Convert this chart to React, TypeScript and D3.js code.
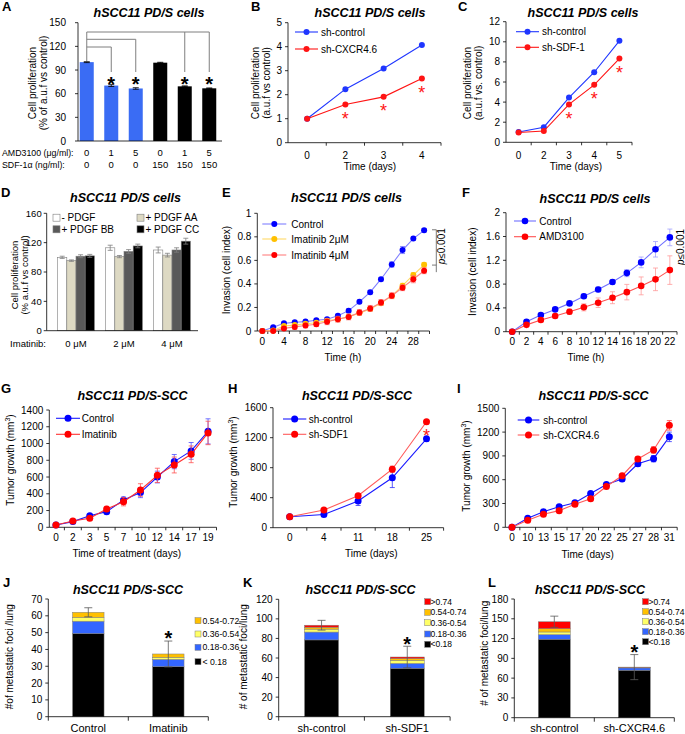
import React from "react";
import * as d3 from "d3";

const FONT = "'Liberation Sans', Arial, Helvetica, sans-serif";

// ---------------- DATA ----------------
// Panel A
const aAmd = ["0", "1", "5", "0", "1", "5"];
const aSdf = ["0", "0", "0", "150", "150", "150"];
const aValues = [100, 70.3, 66.6, 99.3, 69.3, 66.8];
const aErrors = [0.6, 1.2, 1.0, 0.5, 0.6, 0.5];
const aStars = [false, true, true, false, true, true];
const aTicks = [0, 30, 60, 90, 120, 150];

// Panel B
const bDays = ["0", "2", "3", "4"];
const bControl = [1.0, 2.23, 3.09, 4.07];
const bCxcr = [1.0, 1.59, 1.91, 2.68];
const bStars = [1, 2, 3];
const bTicks = [0, 1, 2, 3, 4, 5];

// Panel C
const cDays = ["0", "2", "3", "4", "5"];
const cControl = [1.03, 1.5, 4.45, 6.97, 10.1];
const cSdf = [0.98, 1.12, 3.77, 5.72, 8.33];
const cStars = [2, 3, 4];
const cTicks = [0, 2, 4, 6, 8, 10, 12];

// Panel D
const dGroups = ["0 \u03bcM", "2 \u03bcM", "4 \u03bcM"];
const dSeriesNames = ["- PDGF", "+ PDGF AA", "+ PDGF BB", "+ PDGF CC"];
const dNone = [100, 113, 110];
const dNoneErr = [1.5, 3.5, 4];
const dAA = [95.5, 101, 103];
const dAAErr = [1, 1.5, 2.5];
const dBB = [101.5, 108, 110];
const dBBErr = [2, 2.5, 3];
const dCC = [102, 115.5, 122];
const dCCErr = [2, 2.5, 4];
const dTicks = [0, 40, 80, 120, 160];

// Panel E
const eHours = ["0", "2", "4", "6", "8", "10", "12", "14", "16", "18", "20", "22", "24", "26", "28", "30"];
const eControl = [0, 0.031, 0.065, 0.074, 0.08, 0.092, 0.1, 0.13, 0.173, 0.248, 0.33, 0.44, 0.565, 0.688, 0.785, 0.855];
const eControlErr = [0.004, 0.008, 0.01, 0.01, 0.01, 0.01, 0.01, 0.012, 0.015, 0.015, 0.015, 0.015, 0.022, 0.03, 0.015, 0.015];
const eIma2 = [0, 0.005, 0.042, 0.05, 0.062, 0.07, 0.088, 0.1, 0.122, 0.152, 0.187, 0.235, 0.298, 0.385, 0.476, 0.562];
const eIma2Err = [0.004, 0.006, 0.01, 0.012, 0.012, 0.012, 0.015, 0.015, 0.015, 0.015, 0.015, 0.015, 0.02, 0.02, 0.02, 0.02];
const eIma4 = [0, 0, 0.022, 0.035, 0.047, 0.058, 0.079, 0.1, 0.12, 0.157, 0.192, 0.242, 0.3, 0.368, 0.44, 0.512];
const eIma4Err = [0.004, 0.006, 0.015, 0.02, 0.02, 0.02, 0.025, 0.025, 0.025, 0.025, 0.025, 0.025, 0.025, 0.025, 0.03, 0.025];
const eTicks = [0, 0.2, 0.4, 0.6, 0.8, 1];

// Panel F
const fHours = ["0", "2", "4", "6", "8", "10", "12", "14", "16", "18", "20", "22"];
const fControl = [0, 0.168, 0.28, 0.375, 0.476, 0.595, 0.71, 0.835, 0.985, 1.165, 1.385, 1.585];
const fControlErr = [0.01, 0.03, 0.03, 0.03, 0.03, 0.035, 0.04, 0.04, 0.06, 0.09, 0.13, 0.14];
const fAmd = [0, 0.115, 0.196, 0.263, 0.336, 0.41, 0.487, 0.571, 0.665, 0.77, 0.88, 1.035];
const fAmdErr = [0.01, 0.03, 0.035, 0.04, 0.045, 0.06, 0.08, 0.1, 0.13, 0.15, 0.19, 0.24];
const fTicks = [0, 0.4, 0.8, 1.2, 1.6, 2];

// Panel G
const gDays = ["0", "2", "3", "5", "7", "10", "12", "14", "17", "19"];
const gControl = [28, 68, 139, 187, 326, 414, 600, 784, 912, 1145];
const gControlErr = [8, 15, 20, 25, 35, 60, 70, 85, 100, 150];
const gImatinib = [28, 76, 107, 219, 306, 445, 620, 744, 871, 1126];
const gImatinibErr = [8, 15, 20, 30, 50, 75, 85, 95, 100, 140];
const gTicks = [0, 200, 400, 600, 800, 1000, 1200, 1400];

// Panel H
const hDays = ["0", "4", "11", "18", "25"];
const hControl = [147, 175, 356, 665, 1185];
const hControlErr = [15, 25, 60, 130, 30];
const hSdf = [147, 236, 427, 780, 1412];
const hSdfErr = [15, 20, 25, 40, 25];
const hStars = [4];
const hTicks = [0, 400, 800, 1200, 1600];

// Panel I
const iDays = ["0", "10", "13", "15", "17", "20", "22", "25", "27", "28", "31"];
const iControl = [0, 113, 197, 260, 310, 425, 540, 609, 800, 865, 1140];
const iControlErr = [5, 15, 20, 20, 20, 20, 25, 25, 30, 40, 60];
const iCxcr = [0, 90, 165, 210, 290, 360, 515, 650, 862, 975, 1285];
const iCxcrErr = [5, 15, 20, 20, 20, 20, 25, 25, 30, 40, 60];
const iTicks = [0, 300, 600, 900, 1200, 1500];

// Panel J
const jCats = ["Control", "Imatinib"];
const jLt018 = [49.5, 29.8];
const j018 = [7.3, 4.3];
const j036 = [2.3, 1.2];
const j054 = [3.0, 2.0];
const jErr = [2.7, 7.7];
const jStars = [false, true];
const jTicks = [0, 10, 20, 30, 40, 50, 60, 70];

// Panel K
const kCats = ["sh-control", "sh-SDF1"];
const kLt018 = [78.5, 49.5];
const k018 = [8, 5];
const k036 = [3, 3.2];
const k054 = [2, 1.8];
const k074 = [2, 1.5];
const kErr = [5, 11];
const kStars = [false, true];
const kTicks = [0, 20, 40, 60, 80, 100, 120];

// Panel L
const lCats = ["sh-control", "sh-CXCR4.6"];
const lLt018 = [119, 72];
const l018 = [7, 3.5];
const l036 = [4, 0.5];
const l054 = [5, 0.4];
const l074 = [10.5, 0.3];
const lErr = [8.5, 19];
const lStars = [false, true];
const lTicks = [0, 30, 60, 90, 120, 150, 180];

// ---------------- COLORS ----------------
const BLUE = "#1f36ff";
const RED = "#ff1414";
const ORANGE = "#ffc000";
const STK_BLACK = "#000000";
const STK_BLUE = "#3366ff";
const STK_YEL = "#ffff66";
const STK_ORA = "#ffc000";
const STK_RED = "#ff0000";

// ---------------- HELPERS ----------------
function Letter({ x, y, children }: any) {
  return (
    <text x={x} y={y} fontSize={13} fontWeight="bold">
      {children}
    </text>
  );
}
function Title({ x, y, children }: any) {
  return (
    <text x={x} y={y} fontSize={12.5} fontWeight="bold" fontStyle="italic" textAnchor="middle">
      {children}
    </text>
  );
}
function VText({ x, y, children, size = 10 }: any) {
  return (
    <text transform={`translate(${x},${y}) rotate(-90)`} textAnchor="middle" dy="0.35em" fontSize={size}>
      {children}
    </text>
  );
}
function TumorLabel({ x, y }: any) {
  return (
    <text transform={`translate(${x},${y}) rotate(-90)`} textAnchor="middle" dy="0.35em" fontSize={10}>
      Tumor growth (mm
      <tspan dy={-3.5} fontSize={7}>
        3
      </tspan>
      <tspan dy={3.5}>)</tspan>
    </text>
  );
}
function YAxis({ scale, x, ticks, fmt, gap = 6, size = 10 }: any) {
  const [b, t] = scale.range();
  const f = fmt || ((v: number) => String(v));
  return (
    <g>
      <line x1={x} x2={x} y1={b} y2={t} stroke="#000" strokeWidth={0.8} />
      {ticks.map((v: number) => (
        <g key={v}>
          <line x1={x - 3} x2={x} y1={scale(v)} y2={scale(v)} stroke="#000" strokeWidth={0.8} />
          <text x={x - gap} y={scale(v)} dy="0.35em" textAnchor="end" fontSize={size}>
            {f(v)}
          </text>
        </g>
      ))}
    </g>
  );
}
function Star({ x, cy, size = 18, color = "#000", bold = false }: any) {
  return (
    <text x={x} y={cy + size * 0.57} fontSize={size} textAnchor="middle" fill={color} fontWeight={bold ? "bold" : "normal"}>
      *
    </text>
  );
}
function ErrBar({ x, y0, y1, w = 2.5, color = "#000", sw = 0.8 }: any) {
  return (
    <path
      d={`M${x},${y0}V${y1}M${x - w},${y0}H${x + w}M${x - w},${y1}H${x + w}`}
      stroke={color}
      strokeWidth={sw}
      fill="none"
    />
  );
}
const dec1 = (v: number) => (v === 0 ? "0" : Number.isInteger(v) ? String(v) : v.toFixed(1));

type Series = { name: string; values: number[]; errors?: number[]; color: string; line: string; err?: string };

function LineChart(p: any) {
  const cats: string[] = p.cats;
  const x = d3.scaleBand<string>().domain(cats).range(p.band).padding(0);
  const y = d3.scaleLinear().domain(p.yDomain).range(p.yRange);
  const bw = x.bandwidth();
  const cx = (i: number) => (x(cats[i]) as number) + bw / 2;
  const bottom = p.yRange[0];
  const line = d3
    .line<number>()
    .x((_, i) => cx(i))
    .y((v) => y(v));
  const r = p.r ?? 3;
  const every = p.labelEvery ?? 1;
  const series: Series[] = p.series;
  const lg = p.legend;
  return (
    <g>
      <YAxis scale={y} x={p.axisX} ticks={p.yTicks} fmt={p.yFmt} gap={p.gap ?? 6} />
      <line x1={p.axisX} x2={p.axisEnd} y1={bottom} y2={bottom} stroke="#000" strokeWidth={0.8} />
      {d3.range(1, cats.length + 1).map((i) => {
        const xx = p.band[0] + i * bw;
        return <line key={i} x1={xx} x2={xx} y1={bottom} y2={bottom + 3} stroke="#000" strokeWidth={0.8} />;
      })}
      {cats.map((c, i) =>
        i % every === 0 ? (
          <text key={c} x={cx(i)} y={p.labelY} textAnchor="middle" fontSize={10}>
            {c}
          </text>
        ) : null
      )}
      {series.map((s) => (
        <g key={s.name}>
          {s.errors &&
            s.values.map((v, i) => {
              const e = s.errors![i];
              if (!e) return null;
              return <ErrBar key={i} x={cx(i)} y0={y(v - e)} y1={y(v + e)} w={2.5} color={s.err ?? s.color} />;
            })}
          <path d={line(s.values) as string} fill="none" stroke={s.line} strokeWidth={p.lw ?? 1.1} />
          {s.values.map((v, i) => (
            <circle key={i} cx={cx(i)} cy={y(v)} r={r} fill={s.color} />
          ))}
        </g>
      ))}
      {p.stars &&
        p.stars.map((i: number) => (
          <Star key={i} x={cx(i)} cy={y(series[series.length - 1].values[i]) + 10} color={RED} size={18} />
        ))}
      {series.map((s, k) => (
        <g key={"lg" + k}>
          <line x1={lg.x0} x2={lg.x1} y1={lg.ys[k]} y2={lg.ys[k]} stroke={s.line} strokeWidth={p.lw ?? 1.1} />
          <circle cx={(lg.x0 + lg.x1) / 2} cy={lg.ys[k]} r={r} fill={s.color} />
          <text x={lg.tx} y={lg.ys[k]} dy="0.35em" fontSize={10}>
            {s.name}
          </text>
        </g>
      ))}
    </g>
  );
}

type Layer = { name: string; values: number[]; color: string };

function StackedChart(p: any) {
  const cats: string[] = p.cats;
  const layers: Layer[] = p.layers;
  const x = d3.scaleBand<string>().domain(cats).range(p.band).padding(0);
  const y = d3.scaleLinear().domain(p.yDomain).range(p.yRange);
  const bw = x.bandwidth();
  const cx = (i: number) => (x(cats[i]) as number) + bw / 2;
  const bottom = p.yRange[0];
  const stack = d3
    .stack<any>()
    .keys(layers.map((l) => l.name))(cats.map((c, i) => Object.fromEntries(layers.map((l) => [l.name, l.values[i]]))));
  const totals = cats.map((_, i) => d3.sum(layers, (l) => l.values[i]));
  const lg = p.legend;
  const rev = layers.slice().reverse();
  return (
    <g>
      {stack.map((st, k) =>
        st.map((d, i) => (
          <rect
            key={k + "-" + i}
            x={cx(i) - p.barW / 2}
            width={p.barW}
            y={y(d[1])}
            height={y(d[0]) - y(d[1])}
            fill={layers[k].color}
            stroke="#7f7f7f"
            strokeWidth={0.5}
          />
        ))
      )}
      {cats.map((_, i) => (
        <ErrBar key={"e" + i} x={cx(i)} y0={y(totals[i] - p.errors[i])} y1={y(totals[i] + p.errors[i])} w={4} color="#595959" />
      ))}
      {cats.map((_, i) =>
        p.stars[i] ? <Star key={"s" + i} x={cx(i)} cy={y(totals[i] + p.errors[i]) - 7} size={20} bold /> : null
      )}
      <YAxis scale={y} x={p.axisX} ticks={p.yTicks} gap={6} />
      <line x1={p.axisX} x2={p.band[1]} y1={bottom} y2={bottom} stroke="#000" strokeWidth={0.8} />
      {d3.range(0, cats.length + 1).map((i) => {
        const xx = p.band[0] + i * bw;
        return <line key={i} x1={xx} x2={xx} y1={bottom} y2={bottom + 4} stroke="#000" strokeWidth={0.8} />;
      })}
      {cats.map((c, i) => (
        <text key={c} x={cx(i)} y={p.labelY} textAnchor="middle" fontSize={11}>
          {c}
        </text>
      ))}
      {rev.map((l, k) => (
        <g key={"lg" + k}>
          <rect x={lg.x} y={lg.ys[k] - 3} width={6} height={6} fill={l.color} stroke="#7f7f7f" strokeWidth={0.5} />
          <text x={lg.tx} y={lg.ys[k]} dy="0.35em" fontSize={lg.size ?? 9}>
            {l.name}
          </text>
        </g>
      ))}
    </g>
  );
}

// ---------------- PANELS ----------------
function PanelA() {
  const y = d3.scaleLinear().domain([0, 150]).range([141, 22.7]);
  const x = d3.scaleBand<number>().domain(d3.range(aValues.length)).range([74.5, 221.5]).padding(0);
  const cx = (i: number) => (x(i) as number) + x.bandwidth() / 2;
  const bw = 14;
  const gray = "#7f7f7f";
  const yEnd = 72;
  const yTop = [32, 39.3, 47];
  return (
    <g>
      <Letter x={2} y={11}>A</Letter>
      <Title x={149} y={17}>hSCC11 PD/S cells</Title>
      {aValues.map((v, i) => (
        <g key={i}>
          <rect x={cx(i) - bw / 2} y={y(v)} width={bw} height={y(0) - y(v)} fill={i < 3 ? "#3a6cf4" : "#000"} />
          <ErrBar x={cx(i)} y0={y(v - aErrors[i])} y1={y(v + aErrors[i])} w={3} color="#000" />
        </g>
      ))}
      <YAxis scale={y} x={78} ticks={aTicks} gap={12} />
      <line x1={78} x2={222} y1={141} y2={141} stroke="#000" strokeWidth={0.8} />
      <path
        d={`M${cx(0)},${y(aValues[0]) - 1}V${yTop[0]}H${cx(5)}V${yEnd}M${cx(4)},${yTop[0]}V${yEnd}`}
        stroke={gray}
        strokeWidth={1}
        fill="none"
      />
      <path d={`M${cx(0)},${yTop[1]}H${cx(2)}V${yEnd}`} stroke={gray} strokeWidth={1} fill="none" />
      <path d={`M${cx(0)},${yTop[2]}H${cx(1)}V${yEnd}`} stroke={gray} strokeWidth={1} fill="none" />
      {aStars.map((s, i) => (s ? <Star key={i} x={cx(i)} cy={80} size={20} bold /> : null))}
      <text x={2} y={155.5} fontSize={8.8}>{"AMD3100 (\u03bcg/ml):"}</text>
      <text x={2} y={167.5} fontSize={8.8}>{"SDF-1\u03b1 (ng/ml):"}</text>
      {aAmd.map((t, i) => (
        <text key={"a" + i} x={cx(i)} y={155.5} fontSize={9.5} textAnchor="middle">
          {t}
        </text>
      ))}
      {aSdf.map((t, i) => (
        <text key={"s" + i} x={cx(i)} y={167.5} fontSize={9.5} textAnchor="middle">
          {t}
        </text>
      ))}
      <VText x={32} y={83}>Cell proliferation</VText>
      <VText x={43} y={83}>(% of a.u.f vs control)</VText>
    </g>
  );
}

function PanelB() {
  return (
    <g>
      <Letter x={251} y={11}>B</Letter>
      <Title x={370} y={17}>hSCC11 PD/S cells</Title>
      <LineChart
        cats={bDays}
        series={[
          { name: "sh-control", values: bControl, color: BLUE, line: BLUE },
          { name: "sh-CXCR4.6", values: bCxcr, color: RED, line: RED },
        ]}
        band={[288, 441]}
        axisX={288}
        axisEnd={441}
        yDomain={[0, 5]}
        yRange={[142.7, 22.7]}
        yTicks={bTicks}
        labelY={158.5}
        stars={bStars}
        r={3}
        legend={{ x0: 295, x1: 318, tx: 321, ys: [32, 49] }}
      />
      <text x={370} y={170} textAnchor="middle" fontSize={10}>Time (days)</text>
      <VText x={255} y={83}>Cell proliferation</VText>
      <VText x={266} y={83}>(a.u.f vs control)</VText>
    </g>
  );
}

function PanelC() {
  return (
    <g>
      <Letter x={458} y={11}>C</Letter>
      <Title x={583} y={17}>hSCC11 PD/S cells</Title>
      <LineChart
        cats={cDays}
        series={[
          { name: "sh-control", values: cControl, color: BLUE, line: BLUE },
          { name: "sh-SDF-1", values: cSdf, color: RED, line: RED },
        ]}
        band={[506, 632]}
        axisX={506}
        axisEnd={632}
        yDomain={[0, 12]}
        yRange={[142.3, 21.7]}
        yTicks={cTicks}
        labelY={158.5}
        stars={cStars}
        r={3}
        legend={{ x0: 516, x1: 539, tx: 542, ys: [31.7, 47.3] }}
      />
      <text x={576} y={170} textAnchor="middle" fontSize={10}>Time (days)</text>
      <VText x={467.7} y={83}>Cell proliferation</VText>
      <VText x={478.7} y={83}>(a.u.f vs. control)</VText>
    </g>
  );
}

function PanelD() {
  const y = d3.scaleLinear().domain([0, 160]).range([330.7, 213.3]);
  const x0 = d3.scaleBand<string>().domain(dGroups).range([52, 196]).padding(0);
  const barW = 9.2;
  const series = [
    { vals: dNone, errs: dNoneErr, fill: "#ffffff" },
    { vals: dAA, errs: dAAErr, fill: "#ddd9c3" },
    { vals: dBB, errs: dBBErr, fill: "#595959" },
    { vals: dCC, errs: dCCErr, fill: "#000000" },
  ];
  const x1 = d3.scaleBand<number>().domain(d3.range(series.length)).range([0, barW * 4]).padding(0);
  const gc = (g: string) => (x0(g) as number) + x0.bandwidth() / 2;
  const legendPos = [
    { x: 53, y: 217.7 },
    { x: 137, y: 217.7 },
    { x: 53, y: 229.3 },
    { x: 137, y: 229.3 },
  ];
  return (
    <g>
      <Letter x={1} y={197}>D</Letter>
      <Title x={125.5} y={202}>hSCC11 PD/S cells</Title>
      {dGroups.map((g, gi) =>
        series.map((s, si) => {
          const bx = gc(g) - barW * 2 + (x1(si) as number);
          const v = s.vals[gi];
          return (
            <g key={gi + "-" + si}>
              <rect x={bx} y={y(v)} width={barW} height={y(0) - y(v)} fill={s.fill} stroke="#7f7f7f" strokeWidth={0.6} />
              <ErrBar x={bx + barW / 2} y0={y(v - s.errs[gi])} y1={y(v + s.errs[gi])} w={2.5} color="#7f7f7f" />
            </g>
          );
        })
      )}
      <YAxis scale={y} x={46.7} ticks={dTicks} gap={5} size={9.5} />
      <line x1={46.7} x2={198} y1={330.7} y2={330.7} stroke="#000" strokeWidth={0.8} />
      <text x={46} y={346.5} textAnchor="end" fontSize={9.5}>Imatinib:</text>
      {dGroups.map((g) => (
        <text key={g} x={gc(g)} y={346.5} textAnchor="middle" fontSize={9.5}>
          {g}
        </text>
      ))}
      {dSeriesNames.map((n, i) => (
        <g key={n}>
          <rect x={legendPos[i].x} y={legendPos[i].y - 3.5} width={7} height={7} fill={series[i].fill} stroke="#7f7f7f" strokeWidth={0.6} />
          <text x={legendPos[i].x + 8.5} y={legendPos[i].y} dy="0.35em" fontSize={10}>
            {n}
          </text>
        </g>
      ))}
      <VText x={14.5} y={275} size={9.5}>Cell proliferation</VText>
      <VText x={24.5} y={275} size={9.5}>(% a.u.f vs control)</VText>
    </g>
  );
}

function PanelE() {
  const y = d3.scaleLinear().domain([0, 1]).range([331, 213.3]);
  return (
    <g>
      <Letter x={222} y={197}>E</Letter>
      <Title x={346.5} y={202}>hSCC11 PD/S cells</Title>
      <LineChart
        cats={eHours}
        series={[
          { name: "Control", values: eControl, errors: eControlErr, color: "#0000ff", line: "#8080ff", err: "#6f6fff" },
          { name: "Imatinib 2\u03bcM", values: eIma2, errors: eIma2Err, color: ORANGE, line: "#ffd966", err: "#ffd966" },
          { name: "Imatinib 4\u03bcM", values: eIma4, errors: eIma4Err, color: "#ff0000", line: "#ff8080", err: "#ff7070" },
        ]}
        band={[257, 429.5]}
        axisX={257.3}
        axisEnd={429.5}
        yDomain={[0, 1]}
        yRange={[331, 213.3]}
        yTicks={eTicks}
        yFmt={dec1}
        labelEvery={2}
        labelY={345}
        r={3}
        gap={6}
        legend={{ x0: 262.3, x1: 286.3, tx: 291.3, ys: [224, 239, 255] }}
      />
      <path d={`M432,${y(0.86)}H436.3V${y(0.5)}M432,${y(0.56)}H436.3`} stroke="#595959" strokeWidth={0.8} fill="none" />
      <text transform={`translate(441.5,${y(0.72)}) rotate(-90)`} textAnchor="middle" dy="0.35em" fontSize={10}>
        <tspan fontStyle="italic">p</tspan>≤0.001
      </text>
      <text x={343} y={361} textAnchor="middle" fontSize={10}>Time (h)</text>
      <VText x={226.7} y={270}>Invasion (cell index)</VText>
    </g>
  );
}

function PanelF() {
  return (
    <g>
      <Letter x={462} y={197}>F</Letter>
      <Title x={595} y={202.7}>hSCC11 PD/S cells</Title>
      <LineChart
        cats={fHours}
        series={[
          { name: "Control", values: fControl, errors: fControlErr, color: "#0000ff", line: "#7070ff", err: "#a0a0ff" },
          { name: "AMD3100", values: fAmd, errors: fAmdErr, color: "#ff0000", line: "#ff5050", err: "#ff9a9a" },
        ]}
        band={[505, 677]}
        axisX={506}
        axisEnd={677}
        yDomain={[0, 2]}
        yRange={[331.7, 212.7]}
        yTicks={fTicks}
        yFmt={dec1}
        labelY={345}
        r={3.3}
        legend={{ x0: 514, x1: 536, tx: 539.3, ys: [221, 236.7] }}
      />
      <text transform={`translate(680,247) rotate(-90)`} textAnchor="middle" dy="0.35em" fontSize={10}>
        <tspan fontStyle="italic">p</tspan>≤0.001
      </text>
      <text x={586} y={361} textAnchor="middle" fontSize={10}>Time (h)</text>
      <VText x={472.7} y={271.7}>Invasion  (cell index)</VText>
    </g>
  );
}

function PanelG() {
  return (
    <g>
      <Letter x={1} y={393}>G</Letter>
      <Title x={132.5} y={400}>hSCC11 PD/S-SCC</Title>
      <LineChart
        cats={gDays}
        series={[
          { name: "Control", values: gControl, errors: gControlErr, color: "#0000ff", line: "#1a1aff", err: "#5050ff" },
          { name: "Imatinib", values: gImatinib, errors: gImatinibErr, color: "#ff0000", line: "#ff3030", err: "#ff5050" },
        ]}
        band={[47.5, 216.5]}
        axisX={49.3}
        axisEnd={216.5}
        yDomain={[0, 1400]}
        yRange={[527.3, 410]}
        yTicks={gTicks}
        labelY={541}
        r={3.5}
        legend={{ x0: 56, x1: 80, tx: 81.7, ys: [418.3, 434.3] }}
      />
      <text x={126.7} y={557} textAnchor="middle" fontSize={10}>Time of treatment  (days)</text>
      <TumorLabel x={10} y={460} />
    </g>
  );
}

function PanelH() {
  return (
    <g>
      <Letter x={228} y={393}>H</Letter>
      <Title x={357} y={400}>hSCC11 PD/S-SCC</Title>
      <LineChart
        cats={hDays}
        series={[
          { name: "sh-control", values: hControl, errors: hControlErr, color: "#0000ff", line: "#1a1aff", err: "#3030ff" },
          { name: "sh-SDF1", values: hSdf, errors: hSdfErr, color: "#ff0000", line: "#ff5a5a", err: "#ff4040" },
        ]}
        band={[272.6, 443.6]}
        axisX={273}
        axisEnd={443.6}
        yDomain={[0, 1600]}
        yRange={[527.7, 407.7]}
        yTicks={hTicks}
        labelY={541}
        stars={hStars}
        r={3.5}
        legend={{ x0: 283, x1: 306.3, tx: 308.7, ys: [419, 434.3] }}
      />
      <text x={371.3} y={557} textAnchor="middle" fontSize={10}>Time (days)</text>
      <TumorLabel x={233} y={462} />
    </g>
  );
}

function PanelI() {
  return (
    <g>
      <Letter x={457} y={393}>I</Letter>
      <Title x={593.5} y={400}>hSCC11 PD/S-SCC</Title>
      <LineChart
        cats={iDays}
        series={[
          { name: "sh-control", values: iControl, errors: iControlErr, color: "#0000ff", line: "#1a1aff", err: "#3030ff" },
          { name: "sh-CXCR4.6", values: iCxcr, errors: iCxcrErr, color: "#ff0000", line: "#ff5a5a", err: "#ff4040" },
        ]}
        band={[504.1, 677.2]}
        axisX={505.3}
        axisEnd={677.2}
        yDomain={[0, 1500]}
        yRange={[527.3, 408.3]}
        yTicks={iTicks}
        labelY={541}
        r={3.5}
        legend={{ x0: 517.7, x1: 539.3, tx: 543.3, ys: [420, 435] }}
      />
      <text x={587.7} y={558} textAnchor="middle" fontSize={10}>Time (days)</text>
      <TumorLabel x={466} y={466} />
    </g>
  );
}

function PanelJ() {
  return (
    <g>
      <Letter x={3} y={587}>J</Letter>
      <Title x={128} y={594}>hSCC11 PD/S-SCC</Title>
      <StackedChart
        cats={jCats}
        layers={[
          { name: "< 0.18", values: jLt018, color: STK_BLACK },
          { name: "0.18-0.36", values: j018, color: STK_BLUE },
          { name: "0.36-0.54", values: j036, color: STK_YEL },
          { name: "0.54-0.72", values: j054, color: STK_ORA },
        ]}
        errors={jErr}
        stars={jStars}
        band={[48.3, 208.3]}
        barW={31.5}
        axisX={48.3}
        yDomain={[0, 70]}
        yRange={[716.7, 599]}
        yTicks={jTicks}
        labelY={732}
        legend={{ x: 195, tx: 202.5, ys: [620.7, 634, 647.3, 661.7], size: 8.7 }}
      />
      <VText x={9.5} y={656.7}>#of metastatic foci /lung</VText>
    </g>
  );
}

function PanelK() {
  return (
    <g>
      <Letter x={243} y={587}>K</Letter>
      <Title x={360.5} y={594}>hSCC11 PD/S-SCC</Title>
      <StackedChart
        cats={kCats}
        layers={[
          { name: "<0.18", values: kLt018, color: STK_BLACK },
          { name: "0.18-0.36", values: k018, color: STK_BLUE },
          { name: "0.36-0.54", values: k036, color: STK_YEL },
          { name: "0.54-0.74", values: k054, color: STK_ORA },
          { name: ">0.74", values: k074, color: STK_RED },
        ]}
        errors={kErr}
        stars={kStars}
        band={[278.7, 450.1]}
        barW={34}
        axisX={278.7}
        yDomain={[0, 120]}
        yRange={[716.7, 599.3]}
        yTicks={kTicks}
        labelY={732}
        legend={{ x: 424.7, tx: 430.5, ys: [601.7, 612.3, 622.7, 634, 644.3], size: 8.5 }}
      />
      <VText x={243} y={656.7}># of metastatic foci/lung</VText>
    </g>
  );
}

function PanelL() {
  return (
    <g>
      <Letter x={488} y={587}>L</Letter>
      <Title x={590} y={594}>hSCC11 PD/S-SCC</Title>
      <StackedChart
        cats={lCats}
        layers={[
          { name: "<0.18", values: lLt018, color: STK_BLACK },
          { name: "0.18-0.36", values: l018, color: STK_BLUE },
          { name: "0.36-0.54", values: l036, color: STK_YEL },
          { name: "0.54-0.74", values: l054, color: STK_ORA },
          { name: ">0.74", values: l074, color: STK_RED },
        ]}
        errors={lErr}
        stars={lStars}
        band={[514.3, 674.3]}
        barW={32}
        axisX={514.3}
        yDomain={[0, 180]}
        yRange={[717.7, 599]}
        yTicks={lTicks}
        labelY={732}
        legend={{ x: 642.5, tx: 648.5, ys: [601.7, 611.7, 621.7, 631.7, 641.7], size: 8.5 }}
      />
      <VText x={484.3} y={653.3}># of metastatic foci/lung</VText>
    </g>
  );
}

export default function App() {
  return (
    <svg
      width={685}
      height={734}
      style={{ position: "absolute", left: 0, top: 0, background: "#fff" }}
      fontFamily={FONT}
    >
      <rect width={685} height={734} fill="#fff" />
      <PanelA />
      <PanelB />
      <PanelC />
      <PanelD />
      <PanelE />
      <PanelF />
      <PanelG />
      <PanelH />
      <PanelI />
      <PanelJ />
      <PanelK />
      <PanelL />
    </svg>
  );
}
